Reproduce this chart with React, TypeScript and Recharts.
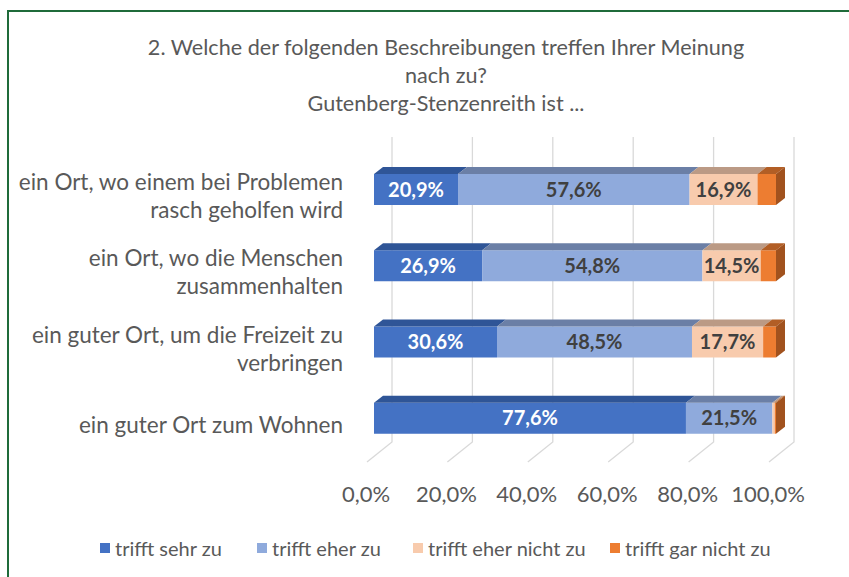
import { BarChart, Bar, XAxis, YAxis, CartesianGrid, Legend, LabelList } from 'recharts';

// rows from top to bottom, as in the picture
const categories = [
  'ein Ort, wo einem bei Problemen|rasch geholfen wird',
  'ein Ort, wo die Menschen|zusammenhalten',
  'ein guter Ort, um die Freizeit zu|verbringen',
  'ein guter Ort zum Wohnen',
];
const sehrZu = [20.9, 26.9, 30.6, 77.6];
const eherZu = [57.6, 54.8, 48.5, 21.5];
const eherNicht = [16.9, 14.5, 17.7, 0.6];
const garNicht = [4.6, 3.8, 3.2, 0.3];
const xTicks = [0, 20, 40, 60, 80, 100];

const series = [
  { key: 'sehr', name: 'trifft sehr zu', front: '#4472C4', top: '#2F5597', side: '#2F5597', label: '#ffffff' },
  { key: 'eher', name: 'trifft eher zu', front: '#8FAADC', top: '#6B7FA6', side: '#6B7FA6', label: '#404040' },
  { key: 'eherNicht', name: 'trifft eher nicht zu', front: '#F8CBAD', top: '#BB9A85', side: '#BB9A85', label: '#404040' },
  { key: 'gar', name: 'trifft gar nicht zu', front: '#ED7D31', top: '#B25E25', side: '#A1521E', label: '#404040' },
];
// left edge of each legend marker
const legendX = [100, 257, 413, 610];

const chartData = categories.map((c, i) => ({
  name: c,
  sehr: sehrZu[i],
  eher: eherZu[i],
  eherNicht: eherNicht[i],
  gar: garNicht[i],
}));

const FONT = 'Lato, "Open Sans", sans-serif';
const GREY = '#595959';
const DX = 9;
const DY = 7;

const fmt = (v: number) => v.toFixed(1).replace('.', ',') + '%';

const make3D = (front: string, top: string, side: string, withSide: boolean) => (props: any) => {
  const { x, y, width, height } = props;
  if (width == null || height == null) return null;
  return (
    <g>
      <rect x={x} y={y} width={width} height={height} fill={front} />
      <polygon
        points={`${x},${y} ${x + DX},${y - DY} ${x + width + DX},${y - DY} ${x + width},${y}`}
        fill={top}
      />
      {withSide && (
        <polygon
          points={`${x + width},${y} ${x + width + DX},${y - DY} ${x + width + DX},${y + height - DY} ${x + width},${y + height}`}
          fill={side}
        />
      )}
    </g>
  );
};

const GridLine = (props: any) => {
  const { x1, y1, y2, index } = props;
  return (
    <path
      key={`g-${index}`}
      d={`M${x1 + 18},${y1 - 14} L${x1 + 18},${y2 - 14} L${x1 - 7},${y2 + 6}`}
      stroke="#d9d9d9"
      strokeWidth={1.3}
      fill="none"
    />
  );
};

const CategoryTick = (props: any) => {
  const { x, y, payload } = props;
  const lines = String(payload.value).split('|');
  const start = y + 7 - ((lines.length - 1) * 28) / 2;
  const tx = x - 23;
  return (
    <text x={tx} y={start} textAnchor="end" fill={GREY} fontSize={22.5} fontFamily={FONT}>
      {lines.map((l, i) => (
        <tspan key={i} x={tx} y={start + i * 28} dy="0.35em">
          {l}
        </tspan>
      ))}
    </text>
  );
};

const ValueTick = (props: any) => {
  const { x, y, payload } = props;
  return (
    <text x={x - 8} y={y + 30} textAnchor="middle" fill={GREY} fontSize={22} fontFamily={FONT} dy="0.35em">
      {fmt(payload.value)}
    </text>
  );
};

const renderLabel = (color: string) => (props: any) => {
  const { x, y, width, height, value } = props;
  if (value == null || value < 5) return null;
  return (
    <text
      x={x + width / 2}
      y={y + height / 2}
      dy="0.35em"
      textAnchor="middle"
      fill={color}
      fontSize={20}
      fontWeight="bold"
      fontFamily={FONT}
    >
      {fmt(value)}
    </text>
  );
};

const LegendContent = () => (
  <div style={{ position: 'relative', height: 30, fontFamily: FONT, fontSize: 20, color: GREY }}>
    {series.map((s, i) => (
      <div
        key={s.key}
        style={{ position: 'absolute', left: legendX[i], top: 2, display: 'flex', alignItems: 'center', whiteSpace: 'nowrap' }}
      >
        <span style={{ display: 'inline-block', width: 10, height: 10, background: s.front, marginRight: 5 }} />
        {s.name}
      </div>
    ))}
  </div>
);

const App = () => {
  return (
    <div style={{ position: 'absolute', left: 0, top: 0, width: 849, height: 577, background: '#fff' }}>
      <div
        style={{
          position: 'absolute',
          left: 7,
          top: 10,
          width: 860,
          height: 580,
          border: '2px solid #1F6B3A',
          boxSizing: 'border-box',
        }}
      />
      <div
        style={{
          position: 'absolute',
          left: 0,
          top: 33,
          width: 892,
          textAlign: 'center',
          fontFamily: FONT,
          fontSize: 21.6,
          lineHeight: '28px',
          color: GREY,
        }}
      >
        2. Welche der folgenden Beschreibungen treffen Ihrer Meinung
        <br />
        nach zu?
        <br />
        Gutenberg-Stenzenreith ist ...
      </div>
      <div style={{ position: 'absolute', left: 0, top: 0 }}>
        <BarChart
          width={849}
          height={577}
          data={chartData}
          layout="vertical"
          barSize={31}
          margin={{ top: 151, right: 73, left: 20, bottom: 13 }}
        >
          <CartesianGrid horizontal={false} vertical={GridLine} />
          <XAxis
            type="number"
            domain={[0, 100]}
            ticks={xTicks}
            axisLine={false}
            tickLine={false}
            height={78}
            tick={<ValueTick />}
          />
          <YAxis
            type="category"
            dataKey="name"
            width={354}
            axisLine={false}
            tickLine={false}
            tick={<CategoryTick />}
          />
          <Legend
            verticalAlign="bottom"
            height={30}
            wrapperStyle={{ left: 0, width: 849 }}
            content={<LegendContent />}
          />
          {series.map((s, i) => (
            <Bar
              key={s.key}
              dataKey={s.key}
              name={s.name}
              stackId="a"
              fill={s.front}
              isAnimationActive={false}
              shape={make3D(s.front, s.top, s.side, i === series.length - 1)}
            >
              {i < 3 && <LabelList dataKey={s.key} content={renderLabel(s.label)} />}
            </Bar>
          ))}
        </BarChart>
      </div>
    </div>
  );
};

export default App;
